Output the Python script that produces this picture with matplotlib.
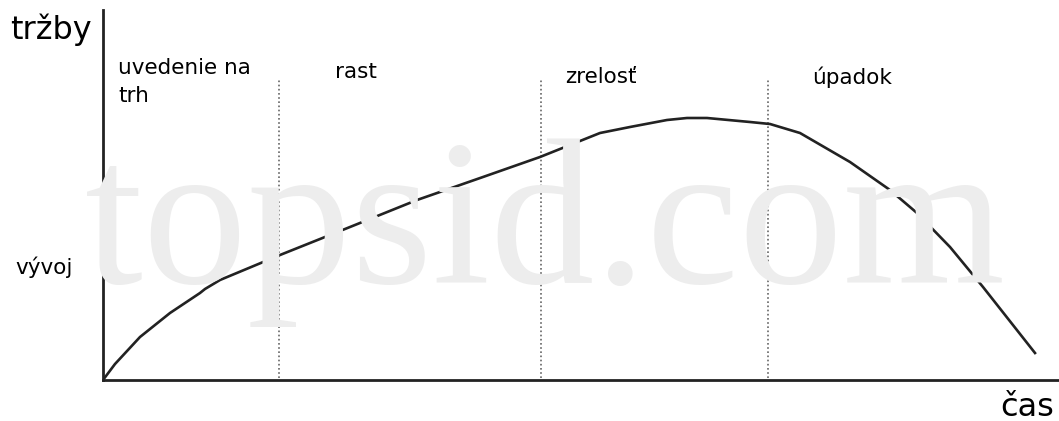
import matplotlib
matplotlib.use('Agg')
from matplotlib import pyplot as plt

# product life cycle curve (time, sales)
time = [0, 12, 37, 67, 97, 102, 117, 177, 247, 314, 380, 437, 497, 527,
        564, 584, 604, 647, 667, 697, 747, 787, 814, 847, 880, 932]
sales = [0, 16, 43, 67, 87, 91, 100, 125, 153, 180, 203, 223, 247, 253,
         260, 262, 262, 258, 256, 247, 218, 190, 167, 133, 93, 27]

# boundaries between phases
bounds = [176, 438, 665]
phases = ['uvedenie na\ntrh', 'rast', 'zrelosť', 'úpadok']
y_label = 'tržby'
x_label = 'čas'
level_label = 'vývoj'

W, H = 1059, 421
fig = plt.figure(figsize=(W / 100, H / 100), dpi=100)
ax = fig.add_axes([103 / W, (H - 380) / H, (W - 103) / W, 370 / H])
ax.set_xlim(0, 956)
ax.set_ylim(0, 370)
ax.set_xticks([])
ax.set_yticks([])
for s in ['top', 'right']:
    ax.spines[s].set_visible(False)
for s in ['left', 'bottom']:
    ax.spines[s].set_linewidth(2)
    ax.spines[s].set_color('#222222')

# watermark
fig.text(545 / W, 1 - 283 / H, 'topsid.com', family='Liberation Serif',
         fontsize=150, color='#ededed', ha='center', va='baseline', zorder=0)

for b in bounds:
    ax.vlines(b, 2, 300, colors='#666666', linestyles=(0, (1, 1.5)), lw=1.2)

ax.plot(time, sales, color='#222222', lw=1.9, solid_joinstyle='round')

fs = 15.5
ax.text(15, 298, phases[0], fontsize=fs, va='center', linespacing=1.45)
ax.text(232, 308, phases[1], fontsize=fs, va='center')
ax.text(462, 303, phases[2], fontsize=fs, va='center')
ax.text(709, 303, phases[3], fontsize=fs, va='center')
ax.text(-88, 113, level_label, fontsize=fs, va='center', clip_on=False)

fig.text(10 / W, 1 - 30 / H, y_label, fontsize=23, va='center')
fig.text(1000 / W, 1 - 407 / H, x_label, fontsize=23, va='center')

fig.savefig('out.png', dpi=100)
